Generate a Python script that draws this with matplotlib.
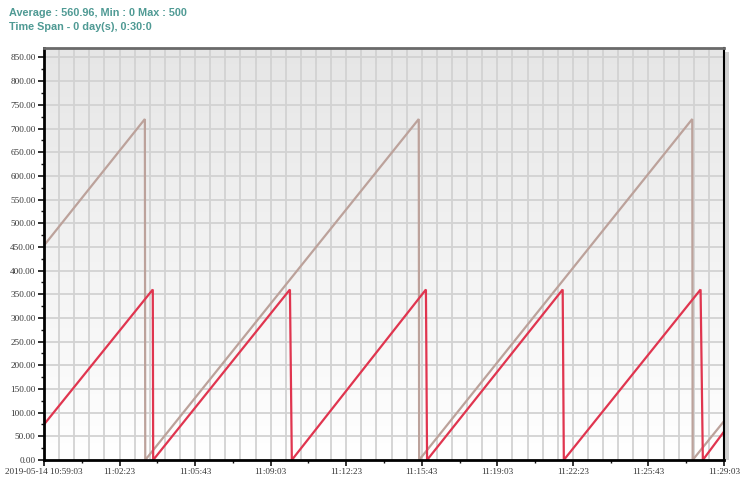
import numpy as np
import pandas as pd
import matplotlib
matplotlib.use("Agg")
import matplotlib.pyplot as plt
from matplotlib.ticker import FixedLocator, MultipleLocator, FuncFormatter
from matplotlib.patches import Rectangle

# ---------------- data ----------------
start_time = "2019-05-14 10:59:03"
title_line1 = "Average : 560.96, Min : 0 Max : 500"
title_line2 = "Time Span - 0 day(s), 0:30:0"

# series 1 (brown) vertices: seconds after start, value
brown_t = [0, 267, 268, 992, 993, 1716, 1717, 1800]
brown_v = [453, 720, 0, 720, 0, 720, 0, 82]
# series 2 (red) vertices
red_t = [0, 288, 289, 651, 656, 1011, 1014, 1373, 1376, 1738, 1744, 1800]
red_v = [75, 360, 0, 360, 0, 360, 0, 360, 0, 360, 0, 60]

xtick_seconds = [0, 200, 400, 600, 800, 1000, 1200, 1400, 1600, 1800]
xtick_labels = ["2019-05-14 10:59:03", "11:02:23", "11:05:43", "11:09:03",
                "11:12:23", "11:15:43", "11:19:03", "11:22:23", "11:25:43",
                "11:29:03"]
y_max = 870

# ---------------- figure ----------------
W, H = 743, 484
fig = plt.figure(figsize=(W / 100, H / 100), dpi=100)
fig.patch.set_facecolor("white")

L, R, B, T = 44, 724, 460, 48
ax = fig.add_axes([L / W, (H - B) / H, (R - L) / W, (B - T) / H])

t0 = pd.Timestamp(start_time)

# gradient background
grad = np.linspace(1.0, 0.0, 256).reshape(-1, 1)
ax.imshow(grad, extent=[0, 1, 0, 1], transform=ax.transAxes, aspect="auto",
          cmap=matplotlib.colors.LinearSegmentedColormap.from_list(
              "bg", ["#ffffff", "#e6e6e6"]), zorder=0)
ax.set_facecolor("none")

ax.plot(brown_t, brown_v, color="#bca29b", lw=1.6, zorder=3, solid_joinstyle="miter")
ax.plot(red_t, red_v, color="#e0354f", lw=1.6, zorder=4, solid_joinstyle="miter")

ax.set_xlim(0, 1800)
ax.set_ylim(0, y_max)

# grid
ax.xaxis.set_major_locator(FixedLocator(xtick_seconds))
ax.xaxis.set_minor_locator(MultipleLocator(100))
ax.set_xticklabels(xtick_labels)
for gx in np.arange(40, 1800, 40):
    ax.axvline(gx, color="#d2d2d2", lw=1.3, zorder=1)
ax.yaxis.set_major_locator(MultipleLocator(50))
ax.yaxis.set_minor_locator(MultipleLocator(25))
ax.yaxis.set_major_formatter(FuncFormatter(lambda v, p: f"{v:.2f}"))
for gy in np.arange(50, 851, 50):
    ax.axhline(gy, color="#d2d2d2", lw=1.3, zorder=1)

for lab in ax.get_xticklabels() + ax.get_yticklabels():
    lab.set_fontfamily("Liberation Serif")
    lab.set_fontsize(6.6)
    lab.set_color("#333333")

ax.tick_params(axis="both", which="major", length=4, width=1.2, color="#111111", pad=2)
ax.tick_params(axis="both", which="minor", length=2, width=1.0, color="#111111")

for s in ["left", "bottom"]:
    ax.spines[s].set_color("#000000")
    ax.spines[s].set_linewidth(2.0)
ax.spines["right"].set_color("#000000")
ax.spines["right"].set_linewidth(1.5)
ax.spines["top"].set_color("#6a6a6a")
ax.spines["top"].set_linewidth(2.0)
for s in ax.spines.values():
    s.set_zorder(6)

# shadow on right edge
fig.patches.append(Rectangle(((R + 1) / W, (H - B) / H), 4 / W, (B - T - 4) / H,
                             transform=fig.transFigure, facecolor="#000000",
                             alpha=0.18, edgecolor="none"))

# header text
fig.text(9 / W, 1 - 12.5 / H, title_line1, color="#4f9a94", fontsize=7.8,
         family="Liberation Sans", fontweight="bold", va="center", ha="left")
fig.text(9 / W, 1 - 27 / H, title_line2, color="#4f9a94", fontsize=7.8,
         family="Liberation Sans", fontweight="bold", va="center", ha="left")

fig.savefig("out.png", dpi=100)
